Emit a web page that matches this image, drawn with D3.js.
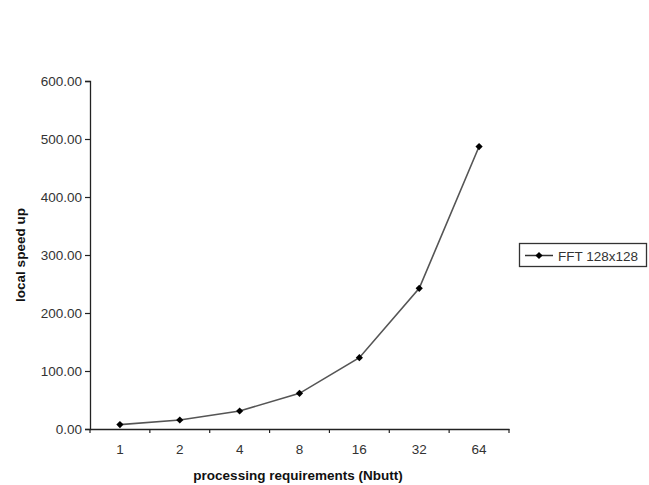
<!DOCTYPE html>
<html><head><meta charset="utf-8">
<script src="https://cdn.jsdelivr.net/npm/d3@7"></script>
<style>body{margin:0;background:#fff}svg{display:block}</style>
</head><body>
<script>
const categories = ["1","2","4","8","16","32","64"];
const speedup = [7.6, 15.5, 31, 61.5, 123, 242.5, 487];
const yTicks = [0,100,200,300,400,500,600];
const seriesName = "FFT 128x128";

const W = 649, H = 485;
const svg = d3.select("body").append("svg").attr("width", W).attr("height", H);
const font = "'Liberation Sans', Arial, sans-serif";
const fs = 13.5;

const x = d3.scaleBand().domain(categories).range([90, 509]);
const y = d3.scaleLinear().domain([0, 600]).range([429, 81]);

// y axis
const ya = svg.append("g").attr("transform", "translate(90,0)")
  .call(d3.axisLeft(y).tickValues(yTicks).tickFormat(d3.format(".2f")).tickSize(5).tickPadding(3));
ya.select(".domain").attr("stroke", "#222").attr("stroke-width", 1.3);
ya.selectAll(".tick line").attr("stroke", "#222").attr("stroke-width", 1.2);
ya.selectAll("text").attr("font-family", font).attr("font-size", fs).attr("fill", "#333");

// x axis
const xa = svg.append("g").attr("transform", "translate(0,429)")
  .call(d3.axisBottom(x).tickSize(0).tickPadding(15));
xa.select(".domain").attr("stroke", "#222").attr("stroke-width", 1.3);
xa.selectAll("text").attr("font-family", font).attr("font-size", fs).attr("fill", "#333");
const bounds = categories.map(c => x(c)).concat([x.range()[1]]);
xa.selectAll(".btick").data(bounds).enter().append("line")
  .attr("x1", d => d).attr("x2", d => d).attr("y1", 0).attr("y2", 4)
  .attr("stroke", "#222").attr("stroke-width", 1.2);

// line
const data = categories.map((c, i) => ({c, v: speedup[i]}));
const line = d3.line().x(d => x(d.c) + x.bandwidth()/2).y(d => y(d.v));
svg.append("path").datum(data).attr("d", line)
  .attr("fill", "none").attr("stroke", "#555").attr("stroke-width", 1.6);

const diamond = d3.symbol().type(d3.symbolSquare).size(26);
svg.selectAll(".pt").data(data).enter().append("path")
  .attr("d", diamond)
  .attr("transform", d => `translate(${x(d.c) + x.bandwidth()/2},${y(d.v)}) rotate(45)`)
  .attr("fill", "#000");

// axis titles
svg.append("text").attr("x", 298).attr("y", 480).attr("text-anchor", "middle")
  .attr("font-family", font).attr("font-size", fs).attr("font-weight", "bold").attr("fill", "#111")
  .text("processing requirements (Nbutt)");
svg.append("text").attr("transform", "translate(25,255) rotate(-90)").attr("text-anchor", "middle")
  .attr("font-family", font).attr("font-size", fs).attr("font-weight", "bold").attr("fill", "#111")
  .text("local speed up");

// legend
const lg = svg.append("g");
lg.append("rect").attr("x", 519.5).attr("y", 243.5).attr("width", 127).attr("height", 23)
  .attr("fill", "#fff").attr("stroke", "#333").attr("stroke-width", 1.3);
lg.append("line").attr("x1", 525).attr("x2", 553).attr("y1", 255.5).attr("y2", 255.5)
  .attr("stroke", "#333").attr("stroke-width", 1.5);
lg.append("path").attr("d", diamond).attr("transform", "translate(539,255.5) rotate(45)").attr("fill", "#000");
lg.append("text").attr("x", 558).attr("y", 260.5)
  .attr("font-family", font).attr("font-size", fs).attr("fill", "#333").text(seriesName);
</script>
</body></html>
